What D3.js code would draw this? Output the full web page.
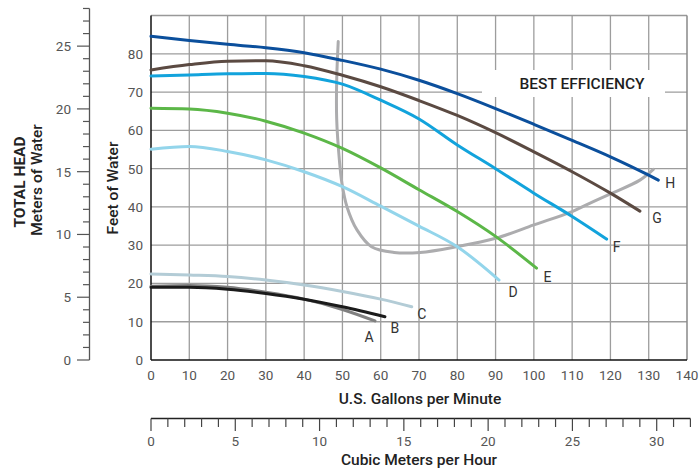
<!DOCTYPE html>
<html>
<head>
<meta charset="utf-8">
<script src="https://cdn.jsdelivr.net/npm/d3@7"></script>
<style>
    body { margin: 0; background: #fff; }
    svg { display: block; font-family: Roboto, "Noto Sans", sans-serif; }
    .tick-label { fill: #555; font-size: 13.5px; }
    .title { fill: #222; font-size: 15.5px; font-weight: 500; }
</style>
</head>
<body>
<div id="chart"></div>
<script>
    // DATA: pump curves, [US gpm, feet of water]
    var curveNames = ["A", "B", "C", "D", "E", "F", "G", "H"];
    var curveA = [[0,19.3],[10,19.5],[20,19.0],[30,17.7],[40,15.9],[50,13.2],[58.5,10.2]];
    var curveB = [[0,19.0],[10,19.0],[20,18.5],[30,17.4],[40,15.9],[50,13.9],[61.1,11.3]];
    var curveC = [[0,22.5],[10,22.2],[20,21.8],[30,20.9],[40,19.6],[50,17.9],[60,15.9],[68.1,13.9]];
    var curveD = [[0,55.1],[10,55.8],[20,54.5],[30,52.3],[40,49.2],[50,45.3],[60,40.2],[70,35],[80,29.6],[90.9,20.9]];
    var curveE = [[0,65.8],[10,65.6],[20,64.5],[30,62.4],[40,59.3],[50,55.3],[60,50.2],[70,44.5],[80,38.8],[90,32.3],[100.7,24]];
    var curveF = [[0,74.2],[10,74.5],[20,74.8],[30,74.9],[40,74.1],[50,72.1],[60,67.9],[70,63],[80,56.2],[90,50],[100,43.6],[110,37.5],[119,31.6]];
    var curveG = [[0,75.8],[10,77.2],[20,78.1],[30,78.2],[40,76.9],[50,74.4],[60,71.4],[70,67.8],[80,63.9],[90,59.4],[100,54.4],[110,49.2],[120,43.6],[127.7,38.9]];
    var curveH = [[0,84.6],[10,83.5],[20,82.5],[30,81.6],[40,80.3],[50,78.3],[60,76],[70,73.1],[80,69.6],[90,65.7],[100,61.6],[110,57.4],[120,53.1],[130,48.3],[132.5,47]];
    var bestEfficiency = [[48.9,83.2],[48.5,73],[48.5,63],[49.2,52.3],[49.9,46],[51.2,40],[53.8,34],[57.6,29.6],[63.5,28.1],[70.3,28.1],[79.8,29.6],[90,31.8],[100,35.3],[110,38.8],[114.7,41],[120,43.4],[127.7,47],[131.2,49.8]];
    var bestEfficiencyLabel = "BEST EFFICIENCY";

    var gpmTicks = [0,10,20,30,40,50,60,70,80,90,100,110,120,130,140];
    var feetTicks = [0,10,20,30,40,50,60,70,80];
    var meterTicks = d3.range(0, 29);
    var meterLabels = [0,5,10,15,20,25];
    var cubicTicks = d3.range(0, 33);
    var cubicLabels = [0,5,10,15,20,25,30];

    var FT_PER_M = 3.2808, GPM_PER_M3H = 4.4029;

    // STYLE
    var colors = ["#808080", "#1b1b1b", "#b3ccd6", "#93d5eb", "#5cb748", "#12a3dc", "#5b4a42", "#0b4f9c"];
    var labelOffset = [[-6,16],[10,11],[10,7],[14,12],[11,9],[10,8],[17,7],[12,3]];

    var W = 700, H = 470;
    var svg = d3.select("#chart").append("svg").attr("width", W).attr("height", H);

    var x = d3.scaleLinear().domain([0, 140]).range([151, 687]);
    var y = d3.scaleLinear().domain([0, 90]).range([360, 15.6]);

    // grid
    var grid = svg.append("g").attr("stroke", "#9d9d9d").attr("stroke-width", 1.3);
    grid.selectAll("line.v").data(gpmTicks.slice(1, -1)).enter().append("line")
        .attr("x1", function(d) { return x(d); }).attr("x2", function(d) { return x(d); })
        .attr("y1", y(0)).attr("y2", y(90));
    grid.selectAll("line.h").data(feetTicks.slice(1)).enter().append("line")
        .attr("y1", function(d) { return y(d); }).attr("y2", function(d) { return y(d); })
        .attr("x1", x(0)).attr("x2", x(140));

    // frame
    svg.append("line").attr("x1", x(0)).attr("x2", x(140)).attr("y1", y(90)).attr("y2", y(90))
        .attr("stroke", "#999").attr("stroke-width", 1.5);
    svg.append("line").attr("x1", x(140)).attr("x2", x(140)).attr("y1", y(90)).attr("y2", y(0))
        .attr("stroke", "#888").attr("stroke-width", 1.5);

    // best efficiency label box
    svg.append("rect").attr("x", 482).attr("y", 70).attr("width", 183).attr("height", 27).attr("fill", "#fff");
    svg.append("text").attr("x", 582).attr("y", 88.5).attr("text-anchor", "middle")
        .attr("fill", "#1e1e1e").style("font-size", "15.5px").style("font-weight", 500)
        .text(bestEfficiencyLabel);

    // axes lines (feet / gpm)
    svg.append("line").attr("x1", x(0)).attr("x2", x(0)).attr("y1", y(90)).attr("y2", y(0))
        .attr("stroke", "#111").attr("stroke-width", 1.5);
    svg.append("line").attr("x1", x(0)).attr("x2", x(140)).attr("y1", y(0)).attr("y2", y(0))
        .attr("stroke", "#111").attr("stroke-width", 1.5);

    svg.selectAll("text.gpm").data(gpmTicks).enter().append("text")
        .attr("class", "tick-label").attr("text-anchor", "middle")
        .attr("x", function(d) { return x(d); }).attr("y", 380)
        .text(function(d) { return d; });
    svg.selectAll("text.ft").data(feetTicks).enter().append("text")
        .attr("class", "tick-label").attr("text-anchor", "end")
        .attr("x", 143).attr("y", function(d) { return y(d) + 5; })
        .text(function(d) { return d; });

    // meters axis
    var yM = function(m) { return y(m * FT_PER_M); };
    var mAxis = svg.append("g");
    mAxis.append("line").attr("x1", 89.5).attr("x2", 89.5).attr("y1", yM(0)).attr("y2", yM(28))
        .attr("stroke", "#555").attr("stroke-width", 1.3);
    mAxis.selectAll("line.t").data(meterTicks).enter().append("line")
        .attr("x1", function(d) { return d % 5 === 0 ? 77 : 83; }).attr("x2", 89.5)
        .attr("y1", function(d) { return yM(d); }).attr("y2", function(d) { return yM(d); })
        .attr("stroke", "#555").attr("stroke-width", 1.2);
    mAxis.selectAll("text").data(meterLabels).enter().append("text")
        .attr("class", "tick-label").attr("text-anchor", "end")
        .attr("x", 71).attr("y", function(d) { return yM(d) + 5; })
        .text(function(d) { return d; });

    // cubic meters axis
    var xC = function(c) { return x(c * GPM_PER_M3H); };
    var cAxis = svg.append("g");
    cAxis.append("line").attr("x1", xC(0)).attr("x2", xC(32)).attr("y1", 418.5).attr("y2", 418.5)
        .attr("stroke", "#222").attr("stroke-width", 1.3);
    cAxis.selectAll("line.t").data(cubicTicks).enter().append("line")
        .attr("x1", function(d) { return xC(d); }).attr("x2", function(d) { return xC(d); })
        .attr("y1", 418.5).attr("y2", function(d) { return d % 5 === 0 ? 431 : 427; })
        .attr("stroke", "#444").attr("stroke-width", 1.2);
    cAxis.selectAll("text").data(cubicLabels).enter().append("text")
        .attr("class", "tick-label").attr("text-anchor", "middle")
        .attr("x", function(d) { return xC(d); }).attr("y", 446)
        .text(function(d) { return d; });

    // titles
    svg.append("text").attr("class", "title").attr("text-anchor", "middle")
        .attr("x", 420).attr("y", 404).text("U.S. Gallons per Minute");
    svg.append("text").attr("class", "title").attr("text-anchor", "middle")
        .attr("x", 419).attr("y", 465).text("Cubic Meters per Hour");
    svg.append("text").attr("class", "title").attr("text-anchor", "middle")
        .attr("transform", "translate(118,188) rotate(-90)").text("Feet of Water");
    svg.append("text").attr("class", "title").attr("text-anchor", "middle")
        .style("font-weight", 700)
        .attr("transform", "translate(25,182) rotate(-90)").text("TOTAL HEAD");
    svg.append("text").attr("class", "title").attr("text-anchor", "middle")
        .attr("transform", "translate(42,180) rotate(-90)").text("Meters of Water");

    // curves
    var curves = [curveA, curveB, curveC, curveD, curveE, curveF, curveG, curveH];
    var line = d3.line().x(function(d) { return x(d[0]); }).y(function(d) { return y(d[1]); })
        .curve(d3.curveMonotoneX);
    var beLine = d3.line().x(function(d) { return x(d[0]); }).y(function(d) { return y(d[1]); })
        .curve(d3.curveCatmullRom.alpha(0.5));

    svg.append("path").datum(bestEfficiency).attr("d", beLine)
        .attr("fill", "none").attr("stroke", "#acacae").attr("stroke-width", 3).attr("stroke-linecap", "round");

    var order = [2, 0, 1, 3, 4, 5, 6, 7];
    order.forEach(function(i) {
        svg.append("path").datum(curves[i]).attr("d", line)
            .attr("fill", "none").attr("stroke", colors[i]).attr("stroke-width", 3)
            .attr("stroke-linecap", "round");
    });

    curveNames.forEach(function(n, i) {
        var last = curves[i][curves[i].length - 1];
        svg.append("text").attr("class", "tick-label").attr("text-anchor", "middle")
            .style("fill", "#333").style("font-size", "14px")
            .attr("x", x(last[0]) + labelOffset[i][0]).attr("y", y(last[1]) + labelOffset[i][1] + 5)
            .text(n);
    });
</script>
</body>
</html>
